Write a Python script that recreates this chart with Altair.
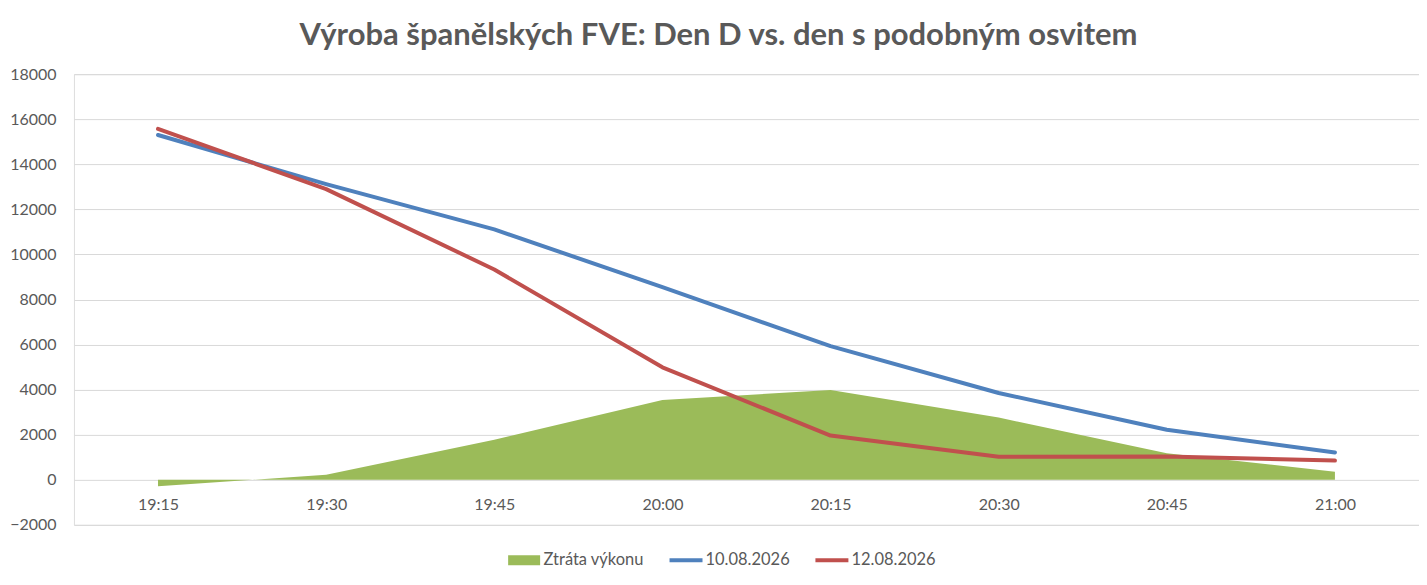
import altair as alt
import pandas as pd

times = ["19:15", "19:30", "19:45", "20:00", "20:15", "20:30", "20:45", "21:00"]
ztrata = [-290, 220, 1780, 3540, 3980, 2760, 1180, 360]
d10 = [15300, 13120, 11110, 8550, 5930, 3850, 2220, 1210]
d12 = [15570, 12900, 9330, 4990, 1960, 1020, 1030, 850]

series_names = ["Ztráta výkonu", "10.08.2026", "12.08.2026"]
series_colors = ["#9BBB59", "#4F81BD", "#C0504D"]
legend_shapes = ["M-0.97,-0.3H0.97V0.3H-0.97Z", "M-1,-0.12H1V0.12H-1Z", "M-1,-0.12H1V0.12H-1Z"]

area_df = pd.DataFrame({"cas": times, "hodnota": ztrata, "rada": series_names[0]})
line_df = pd.concat([
    pd.DataFrame({"cas": times, "hodnota": d10, "rada": series_names[1]}),
    pd.DataFrame({"cas": times, "hodnota": d12, "rada": series_names[2]}),
])
all_df = pd.concat([area_df, line_df])

FONT = "Lato"
GRAY = "#595959"

x_enc = alt.X("cas:O", sort=times, scale=alt.Scale(type="point", padding=0.5),
              axis=alt.Axis(title=None, labelAngle=0, domain=False, ticks=False,
                            grid=False, labelFontSize=16, labelColor=GRAY,
                            labelFont=FONT, offset=-45, labelPadding=17))
y_enc = alt.Y("hodnota:Q", scale=alt.Scale(domain=[-2000, 18000], nice=False),
              axis=alt.Axis(title=None, values=list(range(-2000, 18001, 2000)),
                            domain=False, ticks=False, gridColor="#D9D9D9",
                            gridWidth=1, labelFontSize=16, labelColor=GRAY,
                            labelFont=FONT, labelPadding=18, format="d"))

color_scale = alt.Scale(domain=series_names, range=series_colors)
shape_scale = alt.Scale(domain=series_names, range=legend_shapes)

legend = alt.Legend(
    title=None, orient="none", direction="horizontal",
    legendX=434, legendY=470,
    labelFontSize=16.5, labelColor=GRAY, labelFont=FONT,
    symbolSize=1089, labelOffset=3, columnPadding=25,
    symbolOpacity=1, symbolStrokeWidth=0,
)

color_enc = alt.Color("rada:N", scale=color_scale, legend=legend, sort=series_names)

area = alt.Chart(area_df).mark_area(interpolate="linear").encode(
    x=x_enc, y=y_enc, color=color_enc,
)

lines = alt.Chart(line_df).mark_line(strokeWidth=4, strokeCap="round", strokeJoin="round").encode(
    x=x_enc, y=y_enc, color=color_enc, detail="rada:N",
)

legend_layer = alt.Chart(all_df).mark_point(filled=True).encode(
    x=x_enc, y=y_enc,
    color=color_enc,
    shape=alt.Shape("rada:N", scale=shape_scale, legend=legend, sort=series_names),
    opacity=alt.value(0),
)

chart = alt.layer(legend_layer, area, lines).properties(
    width=1346, height=451,
    padding={"left": 66, "top": 66, "right": 0, "bottom": 52},
    autosize=alt.AutoSizeParams(type="none"),
    title=alt.TitleParams(
        "Výroba španělských FVE: Den D vs. den s podobným osvitem",
        font=FONT, fontSize=31, fontWeight="bold", color=GRAY,
        anchor="middle", offset=14, dx=-28,
    ),
).configure_view(stroke=None).configure(background="white")

chart.save("out.html", embed_options={"renderer": "svg", "actions": False})
